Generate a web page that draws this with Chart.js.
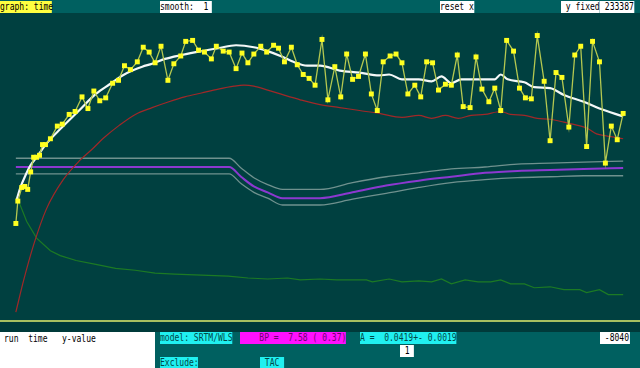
<!DOCTYPE html>
<html>
<head>
<meta charset="utf-8">
<script src="https://cdn.jsdelivr.net/npm/chart.js"></script>
<style>
    html, body { margin: 0; padding: 0; }
    body { width: 640px; height: 368px; background: #004040; position: relative; overflow: hidden; }
    .bar { position: absolute; left: 0; width: 640px; background: #006060; }
    .lbl {
        position: absolute; height: 12px; line-height: 12px;
        font-family: "DejaVu Sans Mono", monospace; font-size: 11px;
        white-space: pre; color: #000; transform: scaleX(0.73); transform-origin: left top;
    }
    .yel { background: #ffff40; }
    .wht { background: #ffffff; }
    .cyn { background: #20f0f0; color: #004848; }
    .mag { background: #ff10ff; color: #700070; }
    #chart-box { position: absolute; left: 0; top: 14px; width: 640px; height: 306px; }
</style>
</head>
<body>
<div class="bar" style="top:0;height:13px"></div>
<div class="lbl yel" style="left:0;top:1px;width:71px">graph: time</div>
<div class="lbl wht" style="left:160px;top:1px;width:71px">smooth:  1 </div>
<div class="lbl wht" style="left:440px;top:1px;width:47px">reset x</div>
<div class="lbl wht" style="left:561px;top:1px;width:53px"> y fixed</div>
<div class="lbl wht" style="left:600px;top:1px;width:47px"> 233387</div>

<div id="chart-box"><canvas id="chart"></canvas></div>

<div style="position:absolute;left:0;top:320px;width:640px;height:12px;background:#003a3a"></div>
<div style="position:absolute;left:0;top:320px;width:640px;height:2px;background:#a8c060"></div>

<div class="bar" style="top:332px;height:36px"></div>
<div style="position:absolute;left:0;top:332px;width:155px;height:36px;background:#fff"></div>
<div class="lbl" style="left:4px;top:333px">run  time   y-value</div>
<div class="lbl cyn" style="left:160px;top:332px;width:99px">model: SRTM/WLS</div>
<div class="lbl mag" style="left:240px;top:332px;width:145px">    BP =  7.58 ( 0.37)</div>
<div class="lbl cyn" style="left:360px;top:332px;width:132px">A =  0.0419+- 0.0019</div>
<div class="lbl wht" style="left:400px;top:345px;width:19px"> 1 </div>
<div class="lbl wht" style="left:600px;top:332px;width:41px"> -8040</div>
<div class="lbl cyn" style="left:160px;top:357px;width:52px">Exclude:</div>
<div class="lbl cyn" style="left:260px;top:357px;width:33px"> TAC </div>

<script>
// measured tissue curve (frame mid-times and values)
const tacTime = [0, 2, 6, 9, 12, 15, 18, 21, 24, 27,
    30, 35, 42, 47, 54, 60, 67, 73, 79, 85,
    91, 98, 104, 110, 116, 123, 129, 135, 141, 147,
    154, 160, 167, 172, 179, 185, 191, 198, 203, 210,
    216, 223, 229, 235, 241, 248, 254, 261, 266, 272,
    279, 285, 291, 297, 303, 310, 316, 323, 329, 335,
    341, 347, 354, 360, 366, 372, 379, 385, 391, 397,
    404, 410, 416, 422, 428, 435, 441, 447, 453, 460,
    466, 472, 479, 485, 491, 497, 504, 510, 516, 522,
    528, 535, 541, 547, 553, 560, 566, 572, 578, 584,
    591, 597, 603, 609, 615];
const tacValue = [95, 118, 132, 133, 130, 148, 163, 163, 165, 176,
    176, 182, 195, 197, 207, 210, 225, 213, 231, 221,
    224, 239, 242, 257, 253, 261, 276, 271, 260, 277,
    242, 259, 267, 282, 283, 273, 271, 264, 277, 272,
    271, 254, 270, 260, 269, 277, 271, 278, 275, 261,
    276, 258, 248, 244, 237, 284, 222, 256, 225, 269,
    243, 246, 269, 228, 211, 261, 267, 269, 260, 228,
    237, 225, 261, 260, 232, 238, 237, 268, 215, 214,
    266, 233, 220, 234, 211, 283, 272, 234, 224, 223,
    288, 241, 180, 250, 245, 194, 268, 277, 174, 282,
    261, 157, 195, 181, 208];

// model fit (white)
const fitTime = [1, 5, 10, 15, 21, 31, 46, 63, 81, 95, 108, 118, 128, 138, 151, 168, 188, 205, 223, 241,
    255, 268, 281, 295, 308, 328, 348, 368, 378, 391, 408, 421, 431, 441, 451, 485, 491, 498, 515, 525,
    541, 555, 575, 591, 615];
const fitValue = [120, 133, 145, 155, 163, 177, 193, 210, 228, 238, 247, 252, 256, 259, 264, 268, 272, 275, 278, 276,
    272, 267, 261, 257, 257, 252, 250, 247, 248, 243, 243, 241, 246, 239, 243, 243, 248, 243, 240, 235,
    234, 227, 220, 213, 205];

// reference region curve (red)
const refTime = [0, 8, 18, 31, 48, 65, 78, 88, 105, 121, 138, 155, 171, 188, 205, 221, 231, 241, 255, 271,
    288, 308, 328, 348, 368, 391, 408, 421, 435, 448, 461, 475, 491, 501, 515, 528, 541, 555, 568, 578,
    588, 598, 615];
const refValue = [4, 37, 73, 110, 140, 160, 172, 182, 196, 207, 214, 220, 225, 229, 233, 236, 237, 236, 232, 227,
    222, 217, 214, 211, 208, 204, 206, 203, 206, 203, 206, 207, 210, 207, 206, 203, 202, 199, 196, 193,
    187, 185, 182];

// green curve
const greenTime = [2, 11, 21, 35, 45, 61, 81, 101, 121, 141, 161, 188, 215, 235, 255, 275, 288, 308, 325, 341,
    355, 361, 378, 391, 408, 421, 431, 441, 455, 468, 481, 491, 501, 515, 525, 541, 555, 571, 578, 591,
    600, 615];
const greenValue = [120, 97, 80, 67, 62, 57, 53, 49, 47, 44, 43, 42, 41, 39, 38, 39, 37, 38, 37, 37,
    37, 35, 38, 35, 36, 35, 38, 33, 37, 35, 35, 37, 33, 33, 29, 30, 27, 27, 24, 27,
    22, 22];

// BP curve with its band (purple and grey)
const bandTime = [0, 216, 228, 241, 255, 270, 308, 341, 375, 408, 441, 475, 508, 541, 575, 615];
const bandMid = [153, 153, 143, 133, 127, 121, 121, 127, 134, 139, 143, 147, 149, 150, 151, 152];
const bandUpper = [162, 162, 152, 142, 135, 130, 130, 137, 143, 147, 151, 153, 156, 157, 158, 159];
const bandLower = [146, 146, 136, 127, 121, 114, 114, 120, 126, 132, 137, 140, 142, 143, 144, 144];

function pts(xs, ys) {
    return xs.map((x, i) => ({ x: x, y: ys[i] }));
}

function line(data, color, width, extra) {
    return Object.assign({
        data: data,
        borderColor: color,
        borderWidth: width,
        pointRadius: 0,
        fill: false,
        tension: 0
    }, extra || {});
}

new Chart(document.getElementById('chart'), {
    type: 'line',
    data: {
        datasets: [
            line(pts(tacTime, tacValue), '#b4c850', 1.3, {
                pointRadius: 3.5, pointStyle: 'rect',
                pointBackgroundColor: '#ffff20', pointBorderColor: '#e8e800', pointBorderWidth: 0
            }),
            line(pts(fitTime, fitValue), '#f4f8f8', 2.2, { cubicInterpolationMode: 'monotone' }),
            line(pts(refTime, refValue), '#a02828', 1.2, { cubicInterpolationMode: 'monotone' }),
            line(pts(greenTime, greenValue), '#1c7a24', 1.2),
            line(pts(bandTime, bandUpper), '#6f918e', 1.3, { cubicInterpolationMode: 'monotone' }),
            line(pts(bandTime, bandLower), '#6f918e', 1.3, { cubicInterpolationMode: 'monotone' }),
            line(pts(bandTime, bandMid), '#8c38d0', 2, { cubicInterpolationMode: 'monotone' })
        ]
    },
    options: {
        responsive: true,
        maintainAspectRatio: false,
        animation: false,
        devicePixelRatio: 1,
        layout: { padding: 0 },
        plugins: {
            legend: { display: false },
            tooltip: { enabled: false }
        },
        scales: {
            x: { type: 'linear', min: -12, max: 628, display: false },
            y: { min: 0, max: 306, display: false }
        }
    }
});
</script>
</body>
</html>
